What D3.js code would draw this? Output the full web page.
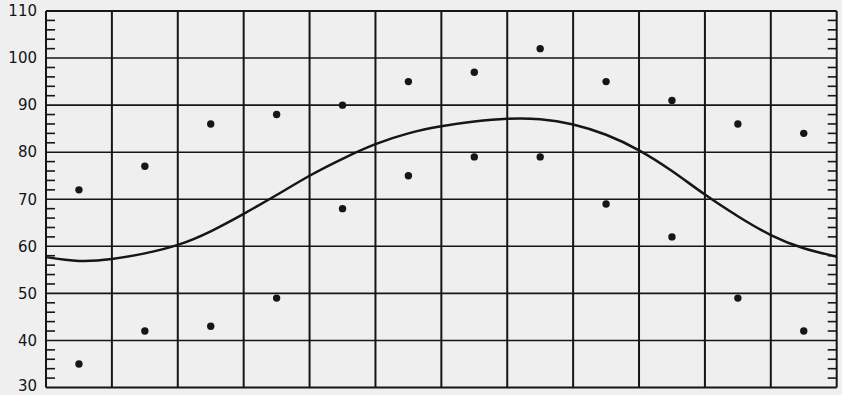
<!DOCTYPE html>
<html>
<head>
  <meta charset="utf-8">
  <script src="https://d3js.org/d3.v7.min.js"></script>
  <style>
    body { margin: 0; background: #efefef; }
    svg { display: block; }
    .tick-label { font: 15px "DejaVu Sans", sans-serif; fill: #141414; }
  </style>
</head>
<body>
<svg width="842" height="395"></svg>
<script>
// monthly highest and lowest readings, one column per month
var months = [1, 2, 3, 4, 5, 6, 7, 8, 9, 10, 11, 12];
var highs = [72, 77, 86, 88, 90, 95, 97, 102, 95, 91, 86, 84];
var lows = [35, 42, 43, 49, 68, 75, 79, 79, 69, 62, 49, 42];

// smooth curve every half column
var curvePos = [0, 0.5, 1, 1.5, 2, 2.5, 3, 3.5, 4, 4.5, 5, 5.5, 6,
                6.5, 7, 7.5, 8, 8.5, 9, 9.5, 10, 10.5, 11, 11.5, 12];
var curveVal = [57.7, 56.9, 57.3, 58.5, 60.3, 63.2, 66.9, 70.9, 75.0, 78.6, 81.7, 84.0, 85.5,
                86.5, 87.1, 87.0, 85.9, 83.7, 80.4, 76.0, 71.0, 66.4, 62.4, 59.6, 57.8];

var yTicks = [30, 40, 50, 60, 70, 80, 90, 100, 110];

var svg = d3.select("svg"),
  plotLeft = 46, plotRight = 836.7, plotTop = 11, plotBottom = 387.5;

var x = d3.scaleLinear().domain([0, 12]).range([plotLeft, plotRight]);
var y = d3.scaleLinear().domain([30, 110]).range([plotBottom, plotTop]);

var ink = "#161616";

// vertical grid (month boundaries)
svg.append("g").selectAll("line")
  .data(d3.range(0, 13))
  .join("line")
    .attr("x1", d => x(d)).attr("x2", d => x(d))
    .attr("y1", plotTop).attr("y2", plotBottom)
    .attr("stroke", ink)
    .attr("stroke-width", 2);

// horizontal grid at every 10
svg.append("g").selectAll("line")
  .data(yTicks)
  .join("line")
    .attr("x1", plotLeft).attr("x2", plotRight)
    .attr("y1", d => y(d)).attr("y2", d => y(d))
    .attr("stroke", ink)
    .attr("stroke-width", d => (d == 30 || d == 110) ? 2 : 1.6);

// minor ticks every 2 units, on both sides, pointing inward
var minor = d3.range(30, 111, 2).filter(d => d % 10 != 0);
svg.append("g").selectAll("line")
  .data(minor)
  .join("line")
    .attr("x1", plotLeft).attr("x2", plotLeft + 9)
    .attr("y1", d => y(d)).attr("y2", d => y(d))
    .attr("stroke", ink).attr("stroke-width", 1.6);
svg.append("g").selectAll("line")
  .data(minor)
  .join("line")
    .attr("x1", plotRight - 9).attr("x2", plotRight)
    .attr("y1", d => y(d)).attr("y2", d => y(d))
    .attr("stroke", ink).attr("stroke-width", 1.6);

// tick labels
svg.append("g").selectAll("text")
  .data(yTicks)
  .join("text")
    .attr("class", "tick-label")
    .attr("x", plotLeft - 9)
    .attr("y", d => y(d))
    .attr("dy", d => d == 30 ? "0.25em" : "0.35em")
    .attr("text-anchor", "end")
    .text(d => d);

// the curve
var line = d3.line()
  .x((d, i) => x(curvePos[i]))
  .y(d => y(d))
  .curve(d3.curveNatural);

svg.append("path")
  .datum(curveVal)
  .attr("d", line)
  .attr("fill", "none")
  .attr("stroke", ink)
  .attr("stroke-width", 2.5);

// dots
var dots = svg.append("g");
[highs, lows].forEach(function(series) {
  dots.append("g").selectAll("circle")
    .data(series)
    .join("circle")
      .attr("cx", (d, i) => x(months[i] - 0.5))
      .attr("cy", d => y(d))
      .attr("r", 3.7)
      .attr("fill", ink);
});
</script>
</body>
</html>
